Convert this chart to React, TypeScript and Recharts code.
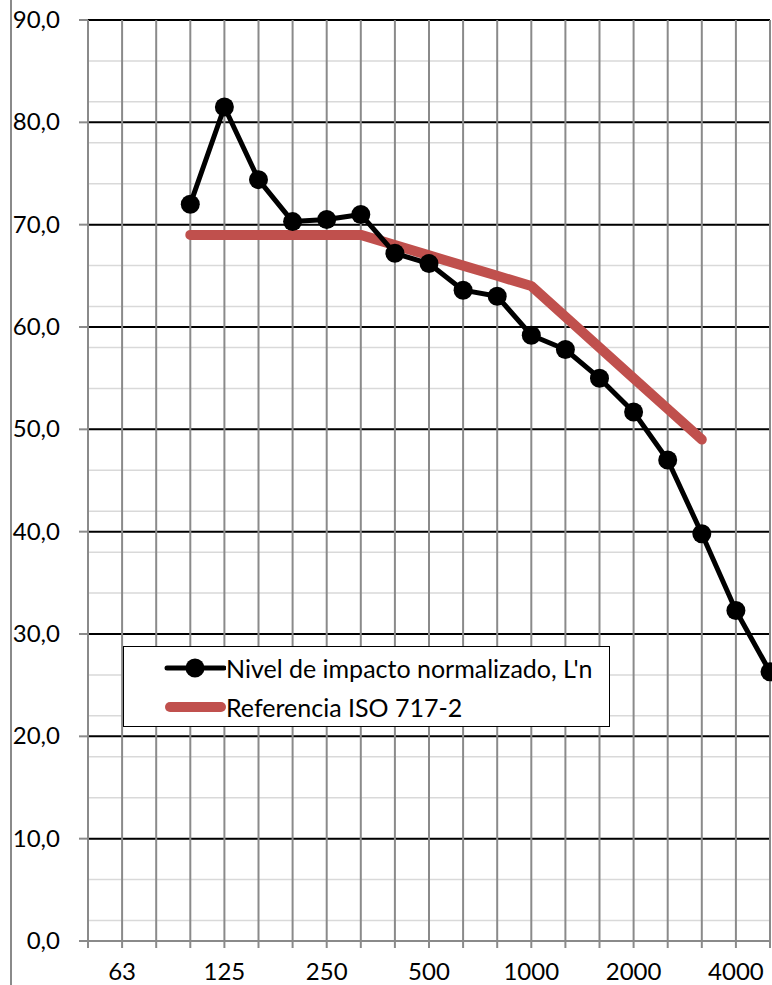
import { CartesianGrid, Line, LineChart, XAxis, YAxis } from "recharts";

const frequencies = [
  "50", "63", "80", "100", "125", "160", "200", "250", "315", "400", "500",
  "630", "800", "1000", "1250", "1600", "2000", "2500", "3150", "4000", "5000",
];

// Nivel de impacto normalizado, L'n (dB)
const nivelValues = [
  null, null, null, 72.0, 81.5, 74.4, 70.3, 70.5, 71.0, 67.2, 66.2,
  63.6, 63.0, 59.2, 57.8, 55.0, 51.7, 47.0, 39.8, 32.3, 26.3,
];

// Curva de referencia ISO 717-2 desplazada
const referenciaValues = [
  null, null, null, 69, 69, 69, 69, 69, 69, 68, 67,
  66, 65, 64, 61, 58, 55, 52, 49, null, null,
];

const shownLabels = ["63", "125", "250", "500", "1000", "2000", "4000"];
const yTicks = [0, 10, 20, 30, 40, 50, 60, 70, 80, 90];
const minorTicks = Array.from({ length: 46 }, (_, i) => i * 2);

const data = frequencies.map((f, i) => ({
  freq: f,
  nivel: nivelValues[i],
  referencia: referenciaValues[i],
}));

const font = "Lato, 'Open Sans', sans-serif";
const gray = "#8a8a8a";

function XTick({ x, y, payload }: any) {
  if (!shownLabels.includes(payload.value)) return null;
  return (
    <text x={x} y={y + 30} textAnchor="middle" fontSize={24} fontFamily={font} fill="#000">
      {payload.value}
    </text>
  );
}

function YTick({ x, y, payload }: any) {
  return (
    <text x={x - 17} y={y + 8} textAnchor="end" fontSize={24} fontFamily={font} fill="#000">
      {payload.value.toFixed(1).replace(".", ",")}
    </text>
  );
}

function Legend() {
  const row = {
    position: "absolute" as const,
    left: 40,
    height: 30,
    lineHeight: "30px",
    display: "flex",
    alignItems: "center",
    whiteSpace: "nowrap" as const,
  };
  return (
    <div
      style={{
        position: "absolute",
        left: 123,
        top: 646,
        width: 485,
        height: 79,
        border: "1.5px solid #000",
        background: "#fff",
        fontFamily: font,
        fontSize: 25,
        color: "#000",
      }}
    >
      <div style={{ ...row, top: 6 }}>
        <svg width={62} height={24}>
          <line x1={3} y1={12} x2={60} y2={12} stroke="#000" strokeWidth={5} strokeLinecap="round" />
          <circle cx={31} cy={12} r={9.5} fill="#000" />
        </svg>
        <span>Nivel de impacto normalizado, L'n</span>
      </div>
      <div style={{ ...row, top: 45 }}>
        <svg width={62} height={24}>
          <line x1={6} y1={12} x2={57} y2={12} stroke="#c0504d" strokeWidth={10} strokeLinecap="round" />
        </svg>
        <span>Referencia ISO 717-2</span>
      </div>
    </div>
  );
}

export default function App() {
  return (
    <div
      style={{
        position: "absolute",
        left: 0,
        top: 0,
        width: 772,
        height: 985,
        overflow: "hidden",
        background: "#fff",
      }}
    >
      <div style={{ position: "absolute", left: 10, top: 0, width: 2, height: 985, background: gray }} />
      <LineChart
        width={800}
        height={985}
        data={data}
        margin={{ top: 20, right: 30, bottom: 0, left: 0 }}
      >
        <CartesianGrid
          horizontalValues={minorTicks}
          stroke="#d9d9d9"
          strokeWidth={1.5}
          vertical={false}
        />
        <CartesianGrid
          horizontalValues={[10, 20, 30, 40, 50, 60, 70, 80, 90]}
          stroke="#000"
          strokeWidth={2}
          vertical={false}
        />
        <CartesianGrid horizontal={false} stroke={gray} strokeWidth={2} />
        <XAxis
          dataKey="freq"
          interval={0}
          height={44}
          tickSize={7}
          axisLine={{ stroke: gray, strokeWidth: 2 }}
          tickLine={{ stroke: gray, strokeWidth: 2 }}
          tick={<XTick />}
        />
        <YAxis
          type="number"
          domain={[0, 90]}
          ticks={yTicks}
          width={88}
          tickSize={9}
          axisLine={{ stroke: gray, strokeWidth: 2 }}
          tickLine={{ stroke: gray, strokeWidth: 2 }}
          tick={<YTick />}
        />
        <Line
          dataKey="referencia"
          stroke="#c0504d"
          strokeWidth={10}
          strokeLinecap="round"
          strokeLinejoin="round"
          dot={false}
          activeDot={false}
          isAnimationActive={false}
        />
        <Line
          dataKey="nivel"
          stroke="#000"
          strokeWidth={5}
          strokeLinejoin="round"
          dot={{ r: 9.5, fill: "#000", stroke: "#000", strokeWidth: 0 }}
          activeDot={false}
          isAnimationActive={false}
        />
      </LineChart>
      <Legend />
    </div>
  );
}
